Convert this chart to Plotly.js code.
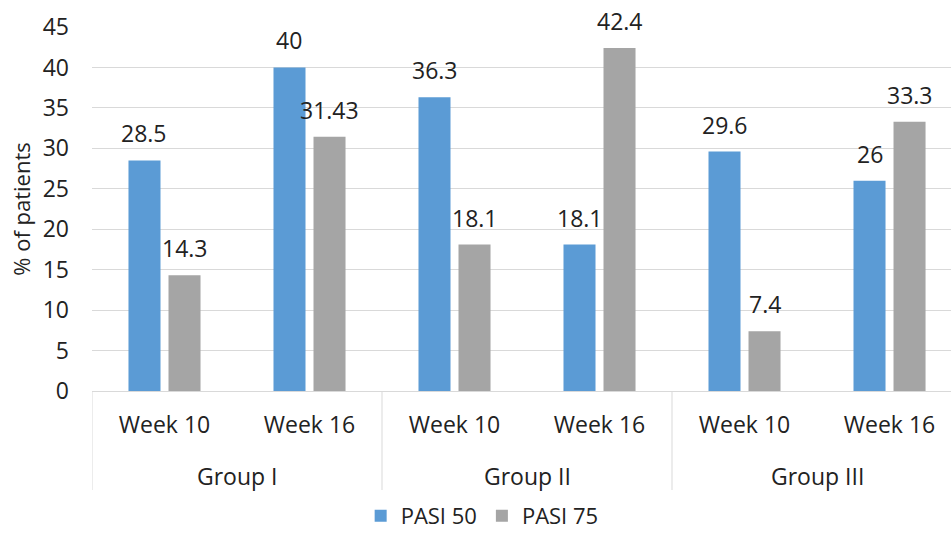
<!DOCTYPE html>
<html><head><meta charset="utf-8">
<script src="https://cdn.plot.ly/plotly-3.0.1.min.js"></script>
<style>html,body{margin:0;padding:0;background:#fff}#chart{width:951px;height:533px}</style>
</head><body><div id="chart"></div>
<script>
const groups = ["Group I","Group I","Group II","Group II","Group III","Group III"];
const weeks = ["Week 10","Week 16","Week 10","Week 16","Week 10","Week 16"];
const pasi50 = [28.5, 40, 36.3, 18.1, 29.6, 26];
const pasi75 = [14.3, 31.43, 18.1, 42.4, 7.4, 33.3];
const pasi50Labels = ["28.5","40","36.3","18.1","29.6","26"];
const pasi75Labels = ["14.3","31.43","18.1","42.4","7.4","33.3"];
const yTicks = [0,5,10,15,20,25,30,35,40,45];

const pos = weeks.map((_, i) => i);
const font = {family: "Open Sans, Lato, sans-serif", size: 23, color: "#222"};
const BARGAP = 0.448, GROUPGAP = 0.2;
const slot = (1 - BARGAP) / 2;

// group labels and dividers derived from the groups array
const groupNames = [...new Set(groups)];
const annotations = groupNames.map(g => {
  const idx = pos.filter(i => groups[i] === g);
  const c = (idx[0] + idx[idx.length - 1]) / 2;
  return {x: c, xref: "x", y: -0.234, yref: "paper", text: g, showarrow: false,
          font: font, xanchor: "center", yanchor: "middle"};
});
// value labels, placed on each bar through the axis scales
[[pasi50, pasi50Labels, -slot / 2], [pasi75, pasi75Labels, slot / 2]].forEach(([vals, labs, off]) => {
  vals.forEach((v, i) => annotations.push({x: pos[i] + off, xref: "x", y: v, yref: "y", text: labs[i],
    showarrow: false, font: font, xanchor: "center", yanchor: "bottom", yshift: 9}));
});
const bounds = [-0.5];
groupNames.forEach(g => { const idx = pos.filter(i => groups[i] === g); bounds.push(idx[idx.length - 1] + 0.5); });
const shapes = bounds.map(b => ({type: "line", xref: "x", yref: "paper", x0: b, x1: b, y0: 0, y1: -0.272,
  line: {color: "#D9D9D9", width: 1}}));

const traces = [
  {type:"bar", name:"PASI 50", x:pos, y:pasi50, marker:{color:"#5B9BD5"}},
  {type:"bar", name:"PASI 75", x:pos, y:pasi75, marker:{color:"#A5A5A5"}}
];
const layout = {
  width:951, height:533,
  margin:{l:92, r:0, t:27, b:142},
  paper_bgcolor:"#fff", plot_bgcolor:"#fff",
  font: font,
  barmode:"group", bargap:BARGAP, bargroupgap:GROUPGAP,
  showlegend:true,
  legend:{orientation:"h", x:0.507, xref:"container", xanchor:"center", y:0.032, yref:"container", yanchor:"middle",
    font:{family:font.family, size:22, color:font.color}, itemwidth:30, tracegroupgap:0},
  annotations: annotations,
  shapes: shapes,
  xaxis:{type:"linear", range:[-0.5, 5.424], tickvals:pos, ticktext:weeks, showline:true, linecolor:"#D9D9D9",
    linewidth:1, tickfont:font, showgrid:false, zeroline:false, ticks:"", ticklabelstandoff:13, automargin:false},
  yaxis:{range:[0,45], tickvals:yTicks, showgrid:true, gridcolor:"#D9D9D9", zeroline:false,
    showline:false, tickfont:font, ticklabelstandoff:22, automargin:false,
    title:{text:"% of patients", font:{family:font.family, size:22, color:font.color}, standoff:5}}
};
Plotly.newPlot("chart", traces, layout, {displayModeBar:false, staticPlot:true});
</script></body></html>
